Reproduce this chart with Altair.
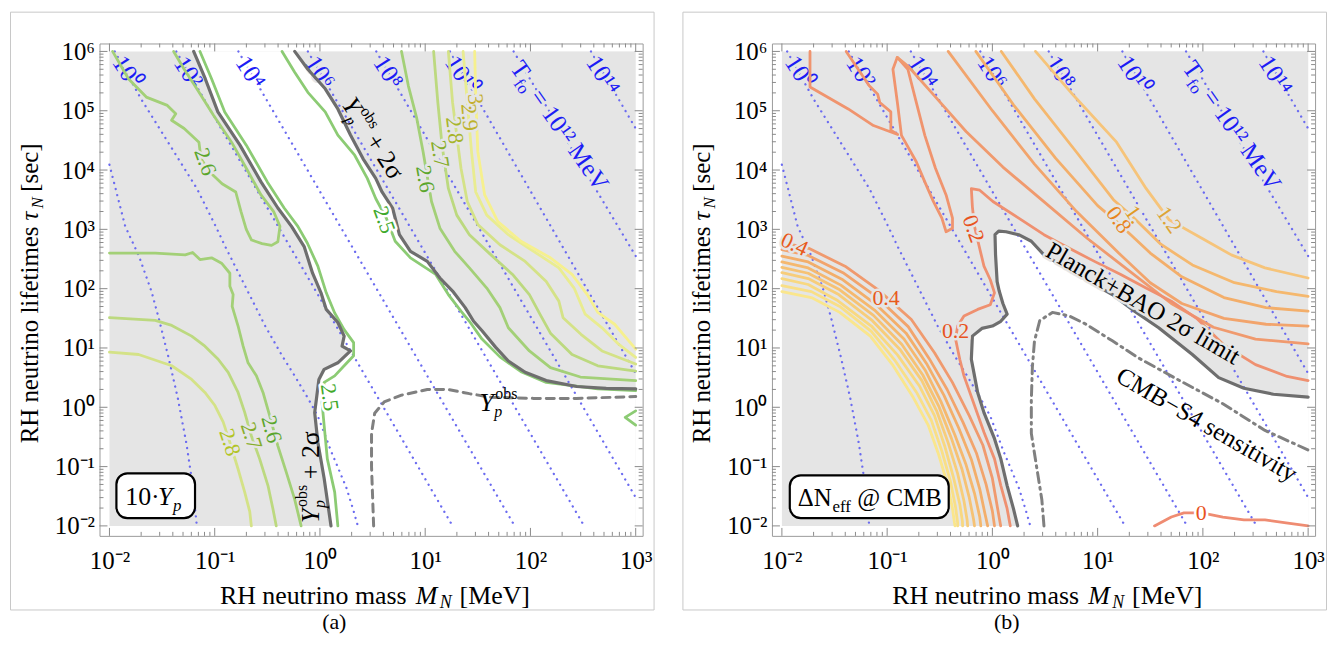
import altair as alt
import pandas as pd

FONT = "Liberation Serif"
W, H = 546, 495
XS = alt.Scale(type="log", domain=[10 ** -2.0945, 10 ** 3.066], nice=False)
YS = alt.Scale(type="log", domain=[10 ** -2.168, 10 ** 6.134], nice=False)
GRAY = "#e5e5e5"
DARK = "#6e6e6e"
DOT = "#6b6bf0"
BLUE = "#1c1cf5"
TICK = "#8a8a8a"

# ------------------------------------------------------------------
# data: (log10 M_N [MeV], log10 tau_N [s])
# ------------------------------------------------------------------
# T_fo isolines (same in both panels)
TFO_M2 = [(-2.00, 4.09), (-1.85, 3.05), (-1.72, 2.55), (-1.60, 1.95), (-1.53, 1.49), (-1.44, 0.85),
          (-1.35, 0.15), (-1.27, -0.60), (-1.21, -1.30), (-1.17, -2.00)]
TFO_0 = [(-1.95, 6.00), (-1.70, 5.20), (-1.17, 3.69), (-0.99, 3.05), (-0.90, 2.71), (-0.71, 2.04),
         (-0.52, 1.37), (-0.36, 0.87), (-0.24, 0.53), (-0.11, 0.14), (-0.02, -0.15), (0.11, -0.76),
         (0.25, -1.35), (0.32, -1.75), (0.36, -2.00)]
TFO_2 = [(-1.365, 6.00), (1.26, -2.00)]
TFO_4 = [(-0.775, 6.00), (1.85, -2.00)]
TFO_6 = [(-0.115, 6.00), (2.51, -2.00)]
TFO_8 = [(0.535, 6.00), (3.00, -1.52)]
TFO_10 = [(1.235, 6.00), (3.00, 0.57)]
TFO_12 = [(1.84, 6.00), (3.00, 2.55)]
TFO_14 = [(2.575, 6.00), (3.00, 4.70)]
TFO_ALL = [TFO_M2, TFO_0, TFO_2, TFO_4, TFO_6, TFO_8, TFO_10, TFO_12, TFO_14]
TFO_TEXT = ["10⁰", "10²", "10⁴", "10⁶", "10⁸", "10¹⁰", "10¹⁴"]
TFO_LX = [-1.83, -1.25, -0.66, 0.00, 0.65, 1.35, 2.69]
TFO_LY = [5.65, 5.65, 5.65, 5.65, 5.65, 5.60, 5.60]

# ---- panel (a): 10*Y_p ----
A_DARK_LEFT = [(-1.20, 6.00), (-1.09, 5.54), (-0.97, 4.98), (-0.76, 4.42), (-0.56, 3.80), (-0.40, 3.36),
               (-0.27, 3.05), (-0.15, 2.71), (-0.07, 2.26), (0.01, 1.93), (0.06, 1.65), (0.17, 1.43),
               (0.23, 1.20), (0.21, 1.03), (0.29, 0.95), (0.17, 0.75), (0.04, 0.64), (-0.01, 0.47),
               (-0.03, 0.19), (-0.05, -0.09), (-0.02, -0.59), (0.04, -1.20), (0.105, -2.00)]
A_DARK_RIGHT = [(-0.24, 6.00), (-0.115, 5.70), (0.05, 5.37), (0.17, 5.03), (0.29, 4.59), (0.41, 4.19),
                (0.53, 3.86), (0.59, 3.63), (0.69, 3.36), (0.755, 2.91), (0.86, 2.63), (1.02, 2.46),
                (1.14, 2.18), (1.26, 1.96), (1.38, 1.68), (1.46, 1.45), (1.54, 1.29), (1.67, 1.01),
                (1.79, 0.78), (1.95, 0.59), (2.15, 0.45), (2.44, 0.35), (2.72, 0.32), (3.00, 0.31)]
A25_LEFT = [(-1.14, 6.00), (-1.03, 5.54), (-0.905, 4.98), (-0.70, 4.42), (-0.50, 3.80), (-0.34, 3.36),
            (-0.21, 3.05), (-0.12, 2.77), (-0.02, 2.38), (0.06, 1.93), (0.14, 1.59), (0.23, 1.31),
            (0.32, 1.09), (0.32, 0.87), (0.23, 0.70), (0.14, 0.53), (0.04, 0.42), (0.02, 0.08),
            (0.04, -0.31), (0.07, -0.87), (0.14, -1.43), (0.17, -2.00)]
A25_RIGHT = [(-0.36, 6.00), (-0.24, 5.65), (-0.115, 5.31), (0.05, 4.98), (0.17, 4.59), (0.33, 4.25),
             (0.45, 3.86), (0.53, 3.52), (0.63, 3.19), (0.715, 2.80), (0.86, 2.52), (1.10, 2.24),
             (1.22, 1.90), (1.34, 1.62), (1.42, 1.45), (1.54, 1.15), (1.71, 0.85), (1.91, 0.60),
             (2.15, 0.42), (2.64, 0.31), (3.00, 0.28)]
A25_EDGE = [(3.00, -0.06), (2.90, -0.17), (3.00, -0.30)]
A26_TONGUE = [(-1.97, 6.00), (-1.82, 5.54), (-1.65, 5.23), (-1.45, 5.09), (-1.37, 4.95), (-1.41, 4.84),
              (-1.29, 4.70), (-1.15, 4.47), (-1.13, 4.19), (-1.05, 3.97), (-0.93, 3.77), (-0.80, 3.63),
              (-0.75, 3.30), (-0.70, 3.00), (-0.65, 2.82), (-0.55, 2.76), (-0.46, 2.73), (-0.40, 2.79),
              (-0.38, 3.05), (-0.44, 3.30), (-0.56, 3.58), (-0.70, 4.03), (-0.84, 4.47), (-1.01, 4.92),
              (-1.17, 5.37), (-1.29, 5.70), (-1.39, 6.00)]
A26_LOWLEFT = [(-2.00, 2.60), (-1.565, 2.60), (-1.28, 2.57), (-1.21, 2.61), (-1.14, 2.49), (-1.03, 2.52),
               (-0.935, 2.43), (-0.856, 2.26), (-0.856, 2.04), (-0.825, 1.90), (-0.834, 1.70),
               (-0.778, 1.37), (-0.73, 1.03), (-0.683, 0.75), (-0.604, 0.53), (-0.541, 0.25),
               (-0.478, -0.14), (-0.40, -0.65), (-0.321, -1.09), (-0.242, -1.54), (-0.179, -2.00)]
A27_LOWLEFT = [(-2.00, 1.51), (-1.565, 1.465), (-1.408, 1.38), (-1.219, 1.20), (-1.093, 1.03),
               (-0.967, 0.81), (-0.872, 0.59), (-0.778, 0.25), (-0.715, -0.085), (-0.652, -0.48),
               (-0.573, -0.87), (-0.494, -1.32), (-0.447, -1.71), (-0.415, -2.00)]
A28_LOWLEFT = [(-2.00, 0.93), (-1.723, 0.89), (-1.408, 0.70), (-1.219, 0.47), (-1.093, 0.25),
               (-0.998, 0.03), (-0.919, -0.25), (-0.856, -0.59), (-0.778, -1.04), (-0.715, -1.43),
               (-0.667, -1.76), (-0.652, -2.00)]
A26_RIGHT = [(0.775, 6.00), (0.84, 5.42), (0.92, 4.87), (0.98, 4.31), (1.06, 3.47), (1.14, 3.02),
             (1.28, 2.63), (1.42, 2.35), (1.585, 2.01), (1.71, 1.68), (1.79, 1.34), (1.99, 0.95),
             (2.19, 0.67), (2.475, 0.51), (3.00, 0.45)]
A27_RIGHT = [(1.08, 6.00), (1.12, 5.14), (1.16, 4.42), (1.22, 3.69), (1.30, 3.24), (1.42, 2.91),
             (1.625, 2.57), (1.83, 2.24), (1.99, 1.90), (2.09, 1.57), (2.19, 1.25), (2.395, 0.89),
             (2.64, 0.70), (3.00, 0.61)]
A28_RIGHT = [(1.22, 6.00), (1.26, 5.14), (1.34, 4.03), (1.40, 3.47), (1.50, 3.08), (1.71, 2.74),
             (1.95, 2.46), (2.15, 2.12), (2.27, 1.79), (2.31, 1.51), (2.48, 1.23), (2.68, 0.95),
             (3.00, 0.73)]
A29_RIGHT = [(1.36, 6.00), (1.40, 5.14), (1.44, 4.31), (1.48, 3.63), (1.585, 3.24), (1.79, 2.91),
             (2.03, 2.63), (2.27, 2.35), (2.415, 2.01), (2.52, 1.57), (2.68, 1.34), (2.84, 1.06),
             (3.00, 0.84)]
A30_RIGHT = [(1.47, 6.00), (1.48, 5.26), (1.50, 4.31), (1.565, 3.58), (1.69, 3.13), (1.91, 2.80),
             (2.19, 2.52), (2.395, 2.24), (2.54, 1.90), (2.64, 1.60), (2.80, 1.40), (2.92, 1.15),
             (3.00, 0.98)]
A_OBS = [(0.51, -2.00), (0.49, -1.00), (0.49, -0.44), (0.52, -0.10), (0.61, 0.09), (0.775, 0.205),
         (1.02, 0.30), (1.22, 0.30), (1.42, 0.23), (1.625, 0.17), (2.03, 0.15), (2.435, 0.15),
         (3.00, 0.18)]
A_LAB_TEXT = ["2.6", "2.5", "2.6", "2.7", "2.8", "2.9", "3.", "2.8", "2.7", "2.6", "2.5"]
A_LAB_LX = [-1.09, 0.61, 1.00, 1.14, 1.28, 1.42, 1.48, -0.856, -0.652, -0.46, 0.09]
A_LAB_LY = [4.14, 3.16, 3.85, 4.27, 4.67, 4.89, 5.15, -0.59, -0.48, -0.37, 0.17]

# ---- panel (b): Delta N_eff ----
B_DARK_LEFT = [(0.24, -2.00), (0.20, -1.71), (0.14, -1.32), (0.08, -0.87), (0.02, -0.53), (-0.08, -0.09),
               (-0.14, 0.25), (-0.17, 0.53), (-0.20, 0.81), (-0.19, 1.20), (-0.10, 1.33), (0.00, 1.37),
               (0.08, 1.45), (0.14, 1.57), (0.10, 1.75), (0.065, 1.96), (0.045, 2.12), (0.03, 2.57),
               (0.025, 2.91), (0.06, 2.97)]
B_DARK_RIGHT = [(0.06, 2.97), (0.13, 2.96), (0.25, 2.91), (0.37, 2.80), (0.49, 2.57), (0.65, 2.40),
                (0.81, 2.24), (0.97, 2.07), (1.14, 1.90), (1.35, 1.62), (1.58, 1.34), (1.90, 0.89),
                (2.15, 0.50), (2.39, 0.32), (2.67, 0.22), (3.00, 0.17)]
B_CMBS4 = [(0.49, -2.00), (0.47, -1.56), (0.41, -0.89), (0.37, -0.44), (0.37, 0.12), (0.38, 0.68),
           (0.40, 1.12), (0.45, 1.46), (0.57, 1.60), (0.73, 1.54), (0.89, 1.40), (1.14, 1.12),
           (1.38, 0.84), (1.78, 0.45), (2.19, 0.06), (2.59, -0.39), (3.00, -0.72)]
B02 = [(0.17, -2.00), (0.14, -1.71), (0.08, -1.32), (0.02, -0.87), (-0.08, -0.42), (-0.17, 0.03),
       (-0.27, 0.53), (-0.31, 0.81), (-0.35, 1.15), (-0.33, 1.37), (-0.27, 1.54), (-0.14, 1.65),
       (-0.02, 1.73), (0.02, 1.93), (-0.02, 2.15), (-0.08, 2.38), (-0.11, 2.60), (-0.14, 2.82),
       (-0.17, 3.05), (-0.19, 3.38), (-0.20, 3.685), (-0.12, 3.66), (0.005, 3.47), (0.25, 3.19),
       (0.49, 2.91), (0.73, 2.68), (0.97, 2.46), (1.22, 2.24), (1.46, 2.01), (1.70, 1.79),
       (1.94, 1.50), (2.20, 1.05), (2.50, 0.72), (2.80, 0.52), (3.00, 0.45)]
B_TONGUE = [(-1.733, 6.00), (-1.733, 5.40), (-1.37, 5.03), (-1.13, 4.75), (-0.90, 4.60), (-0.965, 4.67),
            (-0.965, 4.98), (-1.07, 5.14), (-1.09, 5.28), (-1.17, 5.42), (-1.389, 6.00)]
B_ISLAND = [(-0.904, 5.90), (-0.945, 5.70), (-0.90, 5.10), (-0.864, 4.585), (-0.723, 4.14),
            (-0.642, 3.80), (-0.561, 3.47), (-0.48, 3.19), (-0.44, 2.96), (-0.379, 3.02), (-0.379, 3.19),
            (-0.44, 3.58), (-0.541, 4.03), (-0.642, 4.585), (-0.723, 5.14), (-0.803, 5.70), (-0.904, 5.90)]
B04_TOP = [(-0.904, 5.90), (-0.80, 5.75), (-0.55, 5.25), (-0.25, 4.65), (0.10, 4.05), (0.50, 3.45),
           (0.90, 2.85), (1.30, 2.30), (1.70, 1.75), (2.10, 1.35), (2.50, 1.15), (3.00, 1.07)]
B06_TOP = [(-0.42, 6.00), (0.00, 5.00), (0.40, 4.10), (0.80, 3.30), (1.20, 2.60), (1.50, 2.10),
           (1.80, 1.75), (2.20, 1.50), (2.60, 1.40), (3.00, 1.37)]
B08_TOP = [(-0.157, 6.00), (0.20, 5.10), (0.60, 4.20), (1.00, 3.40), (1.20, 3.10), (1.50, 2.60),
           (1.80, 2.20), (2.20, 1.85), (2.60, 1.68), (3.00, 1.62)]
B10_TOP = [(0.085, 6.00), (0.40, 5.20), (0.80, 4.30), (1.15, 3.50), (1.34, 3.20), (1.60, 2.75),
           (1.90, 2.40), (2.30, 2.10), (2.70, 1.95), (3.00, 1.87)]
B12_TOP = [(0.41, 6.00), (0.77, 5.26), (1.18, 4.47), (1.46, 3.69), (1.68, 3.16), (1.99, 2.85),
           (2.27, 2.57), (2.59, 2.35), (3.00, 2.18)]
B04_LOW = [(-2.00, 2.78), (-1.745, 2.68), (-1.40, 2.38), (-1.085, 1.98), (-0.77, 1.48), (-0.55, 0.92),
           (-0.38, 0.42), (-0.22, -0.14), (-0.09, -0.64), (0.00, -1.20), (0.05, -1.71), (0.079, -2.00)]
B06_LOW = [(-2.00, 2.66), (-1.75, 2.56), (-1.42, 2.27), (-1.10, 1.86), (-0.80, 1.36), (-0.60, 0.82),
           (-0.43, 0.30), (-0.28, -0.25), (-0.15, -0.78), (-0.06, -1.30), (0.00, -1.75), (0.02, -2.00)]
B08_LOW = [(-2.00, 2.55), (-1.75, 2.45), (-1.43, 2.16), (-1.11, 1.74), (-0.82, 1.25), (-0.62, 0.72),
           (-0.46, 0.20), (-0.32, -0.35), (-0.20, -0.88), (-0.12, -1.38), (-0.07, -1.80), (-0.045, -2.00)]
B10_LOW = [(-2.00, 2.45), (-1.75, 2.35), (-1.44, 2.06), (-1.12, 1.64), (-0.84, 1.15), (-0.64, 0.63),
           (-0.49, 0.10), (-0.36, -0.45), (-0.25, -0.97), (-0.17, -1.45), (-0.12, -1.85), (-0.11, -2.00)]
B12_LOW = [(-2.00, 2.36), (-1.75, 2.26), (-1.45, 1.98), (-1.13, 1.55), (-0.86, 1.06), (-0.66, 0.54),
           (-0.51, 0.02), (-0.39, -0.52), (-0.29, -1.04), (-0.22, -1.52), (-0.18, -1.88), (-0.17, -2.00)]
B14_LOW = [(-2.00, 2.27), (-1.75, 2.17), (-1.46, 1.90), (-1.14, 1.46), (-0.88, 0.98), (-0.67, 0.45),
           (-0.53, -0.06), (-0.42, -0.60), (-0.33, -1.12), (-0.27, -1.58), (-0.24, -1.90), (-0.235, -2.00)]
B16_LOW = [(-2.00, 2.17), (-1.75, 2.07), (-1.47, 1.80), (-1.15, 1.37), (-0.90, 0.88), (-0.69, 0.35),
           (-0.55, -0.14), (-0.45, -0.67), (-0.37, -1.18), (-0.31, -1.63), (-0.285, -1.92), (-0.283, -2.00)]
B18_LOW = [(-2.00, 2.05), (-1.72, 1.95), (-1.45, 1.70), (-1.15, 1.28), (-0.93, 0.80), (-0.72, 0.25),
           (-0.58, -0.22), (-0.48, -0.74), (-0.40, -1.24), (-0.35, -1.68), (-0.33, -1.95), (-0.33, -2.00)]
B20_LOW = [(-2.00, 1.95), (-1.72, 1.85), (-1.45, 1.60), (-1.16, 1.20), (-0.95, 0.72), (-0.75, 0.16),
           (-0.61, -0.30), (-0.51, -0.80), (-0.43, -1.28), (-0.38, -1.70), (-0.36, -1.95), (-0.355, -2.00)]
B_ZERO = [(1.54, -2.00), (1.70, -1.85), (1.82, -1.78), (1.99, -1.78), (2.19, -1.85), (2.39, -1.90),
          (2.59, -1.90), (2.79, -1.95), (3.00, -2.00)]
B_LAB_TEXT = ["0.4", "0.4", "0.2", "0.2", "0.8", "1.", "1.2", "0"]
B_LAB_LX = [-1.88, -1.01, -0.35, -0.18, 1.20, 1.35, 1.68, 1.985]
B_LAB_LY = [2.75, 1.84, 1.29, 3.01, 3.16, 3.25, 3.16, -1.78]

# ------------------------------------------------------------------
# styles
# ------------------------------------------------------------------
C25, C26, C27, C28, C29, C30 = "#8ccb74", "#a3d077", "#bcd97f", "#d4e287", "#e9ec90", "#f6f08e"
L25, L26, L27, L28, L29, L30 = "#3fa92c", "#5aa62c", "#86ad2a", "#a7b52a", "#bdb22c", "#c4ae2e"
A_LAB_ANG = [70, 70, 80, 81, 83, 85, 85, 72, 72, 75, 82]
A_LAB_COL = [L26, L25, L26, L27, L28, L29, L30, "#b2c424", L27, L26, L25]
A_LAB_BG = [GRAY, "white", GRAY, GRAY, GRAY, GRAY, GRAY, GRAY, GRAY, GRAY, "white"]
B_LAB_ANG = [25, 0, 0, 70, 55, 55, 55, 0]
B_LAB_COL = ["#e85a1c", "#e85a1c", "#e8531e", "#e8531e", "#e8841e", "#e09a24", "#dda434", "#e8531e"]
B_LAB_BG = [GRAY, GRAY, GRAY, GRAY, GRAY, GRAY, GRAY, "white"]
TFO_BG_A = [GRAY, GRAY, "white", GRAY, GRAY, GRAY, GRAY]
TFO_BG_B = [GRAY] * 7

XLAB = ("datum.value < 0.05 ? '10⁻²' : datum.value < 0.5 ? '10⁻¹' : datum.value < 5 ? '10⁰' : "
        "datum.value < 50 ? '10¹' : datum.value < 500 ? '10²' : '10³'")
YLAB = ("datum.value < 0.05 ? '10⁻²' : datum.value < 0.5 ? '10⁻¹' : datum.value < 5 ? '10⁰' : "
        "datum.value < 50 ? '10¹' : datum.value < 500 ? '10²' : datum.value < 5000 ? '10³' : "
        "datum.value < 5e4 ? '10⁴' : datum.value < 5e5 ? '10⁵' : '10⁶'")
XAX = alt.Axis(values=[1e-2, 1e-1, 1, 10, 100, 1000], labelExpr=XLAB, domain=False, ticks=False, tickSize=0,
               grid=False, title=None, labelFont=FONT, labelFontSize=25, labelColor="black",
               labelPadding=13, labelFlush=False, labelOverlap=False, zindex=1)
YAX = alt.Axis(values=[1e-2, 1e-1, 1, 10, 100, 1e3, 1e4, 1e5, 1e6], labelExpr=YLAB, domain=False,
               ticks=False, tickSize=0, grid=False, title=None, labelFont=FONT, labelFontSize=25,
               labelColor="black", labelPadding=5, labelFlush=False, labelOverlap=False, zindex=1)


def X(f="x"):
    return alt.X(f + ":Q", scale=XS, axis=XAX)


def Y(f="y"):
    return alt.Y(f + ":Q", scale=YS, axis=YAX)


def pts_df(pts):
    return pd.DataFrame({"x": [10 ** a for a, b in pts], "y": [10 ** b for a, b in pts],
                         "i": list(range(len(pts)))})


def lines(groups, width, **mk):
    frames = []
    for g, (pts, col) in enumerate(groups):
        d = pts_df(pts)
        d["g"] = g
        d["c"] = col
        frames.append(d)
    d = pd.concat(frames, ignore_index=True)
    return alt.Chart(d).mark_line(strokeCap="round", strokeJoin="round", strokeWidth=width, **mk).encode(
        x=X(), y=Y(), detail="g:N", order="i:Q", color=alt.Color("c:N", scale=None))


def base_rect():
    d = pd.DataFrame({"x": [1e-2], "x2": [1e3], "y": [1e-2], "y2": [1e6]})
    return alt.Chart(d).mark_rect(color=GRAY).encode(x=X("x"), x2="x2", y=Y("y"), y2="y2")


def white_right_of(pts):
    d = pts_df(pts)
    d["x2"] = 1e3
    return alt.Chart(d).mark_area(orient="horizontal", color="white").encode(y=Y(), x=X(), x2="x2")


def gray_above(pts):
    d = pts_df(pts)
    d["y2"] = 1e6
    return alt.Chart(d).mark_area(orient="vertical", color=GRAY).encode(x=X(), y=Y(), y2="y2")


def labels(texts, lxs, lys, angs, cols, bgs, size):
    d = pd.DataFrame({"t": texts, "x": [10 ** v for v in lxs], "y": [10 ** v for v in lys],
                      "a": angs, "c": cols, "bg": bgs})
    base = alt.Chart(d).encode(x=X(), y=Y(), text="t:N", angle=alt.Angle("a:Q", scale=None))
    halo = base.mark_text(font=FONT, fontSize=size, strokeWidth=5, strokeJoin="round").encode(
        color=alt.Color("bg:N", scale=None), stroke=alt.Stroke("bg:N", scale=None))
    txt = base.mark_text(font=FONT, fontSize=size).encode(color=alt.Color("c:N", scale=None))
    return [halo, txt]


def piece(text, lx, ly, size, dx=0, dy=0, angle=0, italic=False, color="black", halo=None):
    d = pd.DataFrame({"x": [10 ** lx], "y": [10 ** ly], "t": [text]})
    kw = dict(font=FONT, fontSize=size, angle=angle, dx=dx, dy=dy, align="left", baseline="alphabetic",
              fontStyle="italic" if italic else "normal")
    out = []
    if halo:
        out.append(alt.Chart(d).mark_text(fill=halo, stroke=halo, strokeWidth=5, strokeJoin="round", **kw)
                   .encode(x=X(), y=Y(), text="t:N"))
    out.append(alt.Chart(d).mark_text(fill=color, **kw).encode(x=X(), y=Y(), text="t:N"))
    return out


def ptext(text, px, py, size, angle=0, italic=False, align="left"):
    d = pd.DataFrame({"t": [text]})
    return alt.Chart(d).mark_text(font=FONT, fontSize=size, angle=angle, align=align, baseline="alphabetic",
                                  fontStyle="italic" if italic else "normal", fill="black").encode(
        x=alt.value(px), y=alt.value(py), text="t:N")


def box(lx1, lx2, ly1, ly2):
    d = pd.DataFrame({"x": [10 ** lx1], "x2": [10 ** lx2], "y": [10 ** ly1], "y2": [10 ** ly2]})
    return alt.Chart(d).mark_rect(fill="white", stroke="black", strokeWidth=2.2, cornerRadius=11).encode(
        x=X(), x2="x2", y=Y(), y2="y2")


XT_MAJ = [10.0 ** k for k in range(-2, 4)]
XT_MIN = [m * 10.0 ** k for k in range(-2, 3) for m in range(2, 10)]
YT_MAJ = [10.0 ** k for k in range(-2, 7)]
YT_MIN = [m * 10.0 ** k for k in range(-2, 6) for m in range(2, 10)]


def ticks():
    out = []
    for vals, ln in ((XT_MAJ, 8), (XT_MIN, 4)):
        c = alt.Chart(pd.DataFrame({"x": vals})).mark_rule(color=TICK, strokeWidth=1)
        out.append(c.encode(x=X(), y=alt.value(H), y2=alt.value(H - ln)))
        out.append(c.encode(x=X(), y=alt.value(0), y2=alt.value(ln)))
    for vals, ln in ((YT_MAJ, 8), (YT_MIN, 4)):
        c = alt.Chart(pd.DataFrame({"y": vals})).mark_rule(color=TICK, strokeWidth=1)
        out.append(c.encode(y=Y(), x=alt.value(0), x2=alt.value(ln)))
        out.append(c.encode(y=Y(), x=alt.value(W - ln), x2=alt.value(W)))
    return out


def deco(letter):
    one = pd.DataFrame({"a": [0]})
    out = [alt.Chart(one).mark_rect(filled=False, stroke="#c8c8c8", strokeWidth=1).encode(
        x=alt.value(-89.5), x2=alt.value(557.5), y=alt.value(-31.5), y2=alt.value(569.5))]
    out.append(ptext("(" + letter + ")", 236, 589, 22, align="center"))
    # x title
    out.append(ptext("RH neutrino mass", 121, 563, 26))
    out.append(ptext("M", 318, 563, 26, italic=True))
    out.append(ptext("N", 342, 568, 18, italic=True))
    out.append(ptext("[MeV]", 362, 563, 26))
    # y title
    out.append(ptext("RH neutrino lifetimes", -62, 402, 25, angle=270))
    out.append(ptext("τ", -62, 178, 25, angle=270, italic=True))
    out.append(ptext("N", -57, 166, 17, angle=270, italic=True))
    out.append(ptext("[sec]", -62, 149, 25, angle=270))
    return out


def tfo_layers(bgs):
    out = [lines([(p, DOT) for p in TFO_ALL], 2.3, strokeDash=[0.1, 6.2])]
    out += labels(TFO_TEXT, TFO_LX, TFO_LY, [57] * 7, [BLUE] * 7, bgs, 25)
    out += piece("T", 1.80, 5.72, 25, angle=55, color=BLUE, halo=GRAY)
    out += piece("fo", 1.80, 5.72, 17, dx=15, dy=6, angle=55, color=BLUE, halo=GRAY)
    out += piece("= 10¹² MeV", 1.80, 5.72, 25, dx=35, angle=55, color=BLUE, halo=GRAY)
    return out


def yobs(lx, ly, angle, plus=True, bg=None):
    out = []
    out += piece("Y", lx, ly, 26, angle=angle, italic=True, halo=bg)
    out += piece("obs", lx, ly, 16, dx=16, dy=-12, angle=angle)
    out += piece("p", lx, ly, 16, dx=15, dy=6, angle=angle, italic=True)
    if plus:
        out += piece("+ 2σ", lx, ly, 26, dx=44, angle=angle)
    return out


# ---------------- panel (a) ----------------
layers_a = [base_rect(), white_right_of(A_DARK_LEFT), gray_above(A_DARK_RIGHT)]
layers_a += tfo_layers(TFO_BG_A)
layers_a.append(lines([(A26_TONGUE, C26), (A26_LOWLEFT, C26), (A27_LOWLEFT, C27), (A28_LOWLEFT, C28),
                       (A25_LEFT, C25), (A25_RIGHT, C25), (A25_EDGE, C25), (A26_RIGHT, C26),
                       (A27_RIGHT, C27), (A28_RIGHT, C28), (A29_RIGHT, C29), (A30_RIGHT, C30)], 2.8))
layers_a.append(lines([(A_DARK_LEFT, DARK), (A_DARK_RIGHT, DARK)], 3.2))
layers_a.append(lines([(A_OBS, "#808080")], 3.0, strokeDash=[8, 6]))
layers_a += labels(A_LAB_TEXT, A_LAB_LX, A_LAB_LY, A_LAB_ANG, A_LAB_COL, A_LAB_BG, 22)
layers_a += yobs(0.20, 5.11, 57)
layers_a += yobs(-0.006, -1.95, 270)
layers_a += yobs(1.515, -0.06, 0, plus=False)
layers_a.append(box(-1.934, -1.187, -1.114, -1.869))
layers_a += piece("10·", -1.85, -1.65, 26)
layers_a += piece("Y", -1.85, -1.65, 26, dx=33, italic=True)
layers_a += piece("p", -1.85, -1.65, 17, dx=48, dy=6, italic=True)
layers_a += ticks()
layers_a += deco("a")
panel_a = alt.layer(*layers_a).properties(width=W, height=H)

# ---------------- panel (b) ----------------
layers_b = [base_rect(), white_right_of(B_DARK_LEFT), gray_above(B_DARK_RIGHT)]
layers_b += tfo_layers(TFO_BG_B)
layers_b.append(lines([(B20_LOW, "#fae68c"), (B18_LOW, "#f9df86"), (B16_LOW, "#f8d880"),
                       (B14_LOW, "#f7cd7a"), (B12_LOW, "#f6c274"), (B10_LOW, "#f5b86e"),
                       (B08_LOW, "#f3ae6a"), (B06_LOW, "#f2a46c"), (B04_LOW, "#f09a6e")], 2.8))
layers_b.append(lines([(B_TONGUE, "#f0946e"), (B_ISLAND, "#f0946e"), (B04_TOP, "#f09a6e"),
                       (B06_TOP, "#f2a46c"), (B08_TOP, "#f3ae6a"), (B10_TOP, "#f5b86e"),
                       (B12_TOP, "#f6c47a"), (B02, "#ef9070"), (B_ZERO, "#ef8c72")], 2.8))
layers_b.append(lines([(B_DARK_LEFT + B_DARK_RIGHT[1:], DARK)], 3.2))
layers_b.append(lines([(B_CMBS4, "#808080")], 3.0, strokeDash=[10, 5, 2, 5]))
layers_b += labels(B_LAB_TEXT, B_LAB_LX, B_LAB_LY, B_LAB_ANG, B_LAB_COL, B_LAB_BG, 22)
layers_b += piece("Planck+BAO 2σ limit", 0.49, 2.56, 25, angle=30, halo=GRAY)
layers_b += piece("CMB−S4 sensitivity", 1.16, 0.45, 25, angle=30)
layers_b.append(box(-1.925, -0.415, -1.148, -1.869))
layers_b += piece("ΔN", -1.85, -1.67, 25)
layers_b += piece("eff", -1.85, -1.67, 17, dx=35, dy=6)
layers_b += piece("@ CMB", -1.85, -1.67, 25, dx=60)
layers_b += ticks()
layers_b += deco("b")
panel_b = alt.layer(*layers_b).properties(width=W, height=H)

chart = alt.hconcat(panel_a, panel_b, spacing=26).properties(
    padding={"left": 1, "top": 1, "right": 1, "bottom": 1}
).configure_view(stroke="#9a9a9a", strokeWidth=1)

chart.save("out.html", embed_options={"renderer": "svg", "actions": False})
